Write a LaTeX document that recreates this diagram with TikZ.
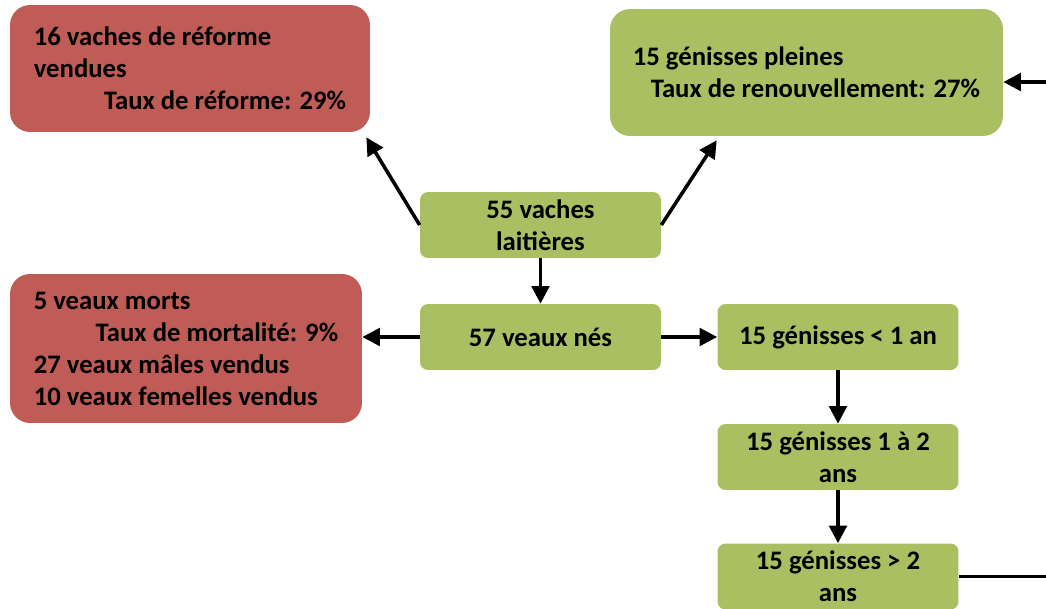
\documentclass[tikz,border=0pt]{standalone}
\usepackage{fontspec}
\setmainfont{Carlito}
\usepackage{tikz}
\usetikzlibrary{arrows.meta, positioning}
\definecolor{rougebox}{RGB}{190,92,85}
\definecolor{vertbox}{RGB}{170,191,98}

\begin{document}
\begin{tikzpicture}[x=0.02cm, y=-0.02cm,
        font=\fontsize{15.2}{18.2}\selectfont\bfseries,
        bigbox/.style={rounded corners=0.4cm, inner sep=0pt, align=left, minimum height=2.54cm},
        smallbox/.style={fill=vertbox, rounded corners=0.16cm, align=center, minimum width=4.82cm, minimum height=1.32cm, inner sep=0pt},
        fleche/.style={line width=2pt, -{Triangle[length=10pt,width=10pt]}}]
    \useasboundingbox (0,0) rectangle (1046,609);

    \node[bigbox, fill=rougebox, minimum width=7.2cm] (reforme) at (190,68.5) {16 vaches de réforme\\vendues\\\hspace*{1.4cm}Taux de réforme: 29\%};
    \node[bigbox, fill=vertbox, minimum width=7.86cm] (pleines) at (806.5,72.5) {15 génisses pleines\\\hspace*{0.36cm}Taux de renouvellement: 27\%};
    \node[bigbox, fill=rougebox, minimum width=7.04cm, minimum height=2.98cm] (morts) at (186,348.5) {5 veaux morts\\\hspace*{1.24cm}Taux de mortalité: 9\%\\27 veaux mâles vendus\\10 veaux femelles vendus};

    \node[smallbox] (vaches) at (540.5,225) {55 vaches\\laitières};
    \node[smallbox] (nes) at (540.5,337) {57 veaux nés};
    \node[smallbox] (gen1) at (838,337) {15 génisses < 1 an};
    \node[smallbox] (gen12) at (838,457) {15 génisses 1 à 2\\ans};
    \node[smallbox] (gen2) at (838,576.5) {15 génisses > 2\\ans};

    \coordinate (retour) at (1046,82);
    \coordinate (sortie) at (1046,576.5);

    \draw[fleche] (vaches.west) -- ([shift={(-4,5)}]reforme.south east);
    \draw[fleche] (vaches.east) -- ([shift={(107,4)}]pleines.south west);
    \draw[fleche] (vaches) -- (nes);
    \draw[fleche] (nes.west) -- (nes.west -| morts.east);
    \draw[fleche] (nes) -- (gen1);
    \draw[fleche] (gen1) -- (gen12);
    \draw[fleche] (gen12) -- (gen2);
    \draw[line width=2pt] (gen2.east) -- (sortie);
    \draw[fleche] (retour) -- (retour -| pleines.east);
\end{tikzpicture}
\end{document}
